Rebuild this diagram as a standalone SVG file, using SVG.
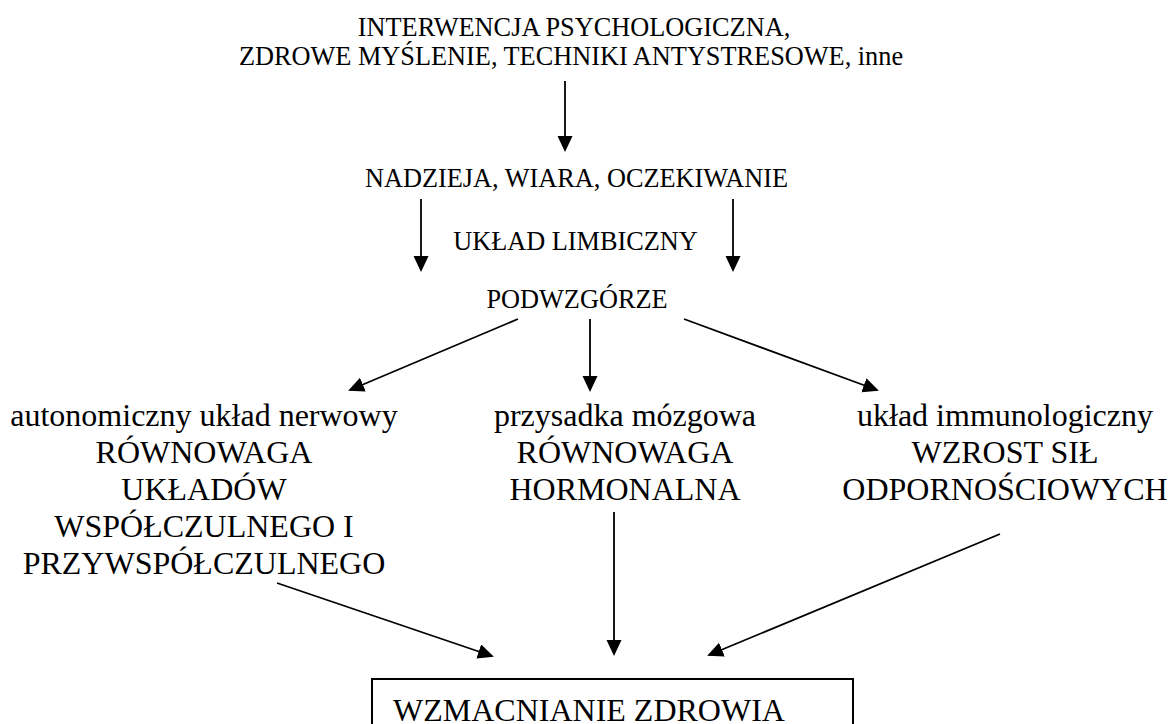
<svg xmlns="http://www.w3.org/2000/svg" width="1169" height="724" viewBox="0 0 1169 724">
  <style>
    text { font-family: "Liberation Serif", "Times New Roman", serif; fill: #000; }
    .s { font-size: 26.3px; text-anchor: middle; }
    .b { font-size: 32px; text-anchor: middle; }
    .c { stroke: #000; stroke-width: 1.8; fill: none; marker-end: url(#ah); }
    .box { fill: #fff; stroke: #000; stroke-width: 2; }
  </style>
  <defs>
    <marker id="ah" markerUnits="userSpaceOnUse" markerWidth="17" markerHeight="16" refX="14" refY="7.5" orient="auto">
      <path d="M0,0 L16,7.5 L0,15 z" fill="#000"/>
    </marker>
  </defs>
  <rect width="1169" height="724" fill="#fff"/>

  <g id="interwencja">
    <text class="s" x="574" y="36">INTERWENCJA PSYCHOLOGICZNA,</text>
    <text class="s" x="571" y="65">ZDROWE MYŚLENIE, TECHNIKI ANTYSTRESOWE, inne</text>
  </g>
  <g id="nadzieja">
    <text class="s" x="576.5" y="187">NADZIEJA, WIARA, OCZEKIWANIE</text>
  </g>
  <g id="limbiczny">
    <text class="s" x="575.5" y="250">UKŁAD LIMBICZNY</text>
  </g>
  <g id="podwzgorze">
    <text class="s" x="577" y="308">PODWZGÓRZE</text>
  </g>
  <g id="autonomiczny">
    <text class="b" x="204" y="426">autonomiczny układ nerwowy</text>
    <text class="b" x="204" y="463">RÓWNOWAGA</text>
    <text class="b" x="204" y="500">UKŁADÓW</text>
    <text class="b" x="204" y="537">WSPÓŁCZULNEGO I</text>
    <text class="b" x="204" y="574">PRZYWSPÓŁCZULNEGO</text>
  </g>
  <g id="przysadka">
    <text class="b" x="625" y="426">przysadka mózgowa</text>
    <text class="b" x="625" y="463">RÓWNOWAGA</text>
    <text class="b" x="625" y="500">HORMONALNA</text>
  </g>
  <g id="immunologiczny">
    <text class="b" x="1005" y="426">układ immunologiczny</text>
    <text class="b" x="1005" y="463">WZROST SIŁ</text>
    <text class="b" x="1005" y="500">ODPORNOŚCIOWYCH</text>
  </g>
  <g id="zdrowie">
    <rect class="box" x="372" y="679" width="481" height="70"/>
    <text x="393" y="721" font-size="32px">WZMACNIANIE ZDROWIA</text>
  </g>

  <g id="connectors">
    <line class="c" x1="565" y1="81" x2="565" y2="150"/>
    <line class="c" x1="421" y1="199" x2="421" y2="270"/>
    <line class="c" x1="733" y1="199" x2="733" y2="270"/>
    <line class="c" x1="518" y1="319" x2="350" y2="390"/>
    <line class="c" x1="590" y1="319" x2="590" y2="390"/>
    <line class="c" x1="684" y1="319" x2="877" y2="390"/>
    <line class="c" x1="277" y1="583" x2="492" y2="656"/>
    <line class="c" x1="614" y1="512" x2="614" y2="654"/>
    <line class="c" x1="1000" y1="534" x2="709" y2="655"/>
  </g>
</svg>
